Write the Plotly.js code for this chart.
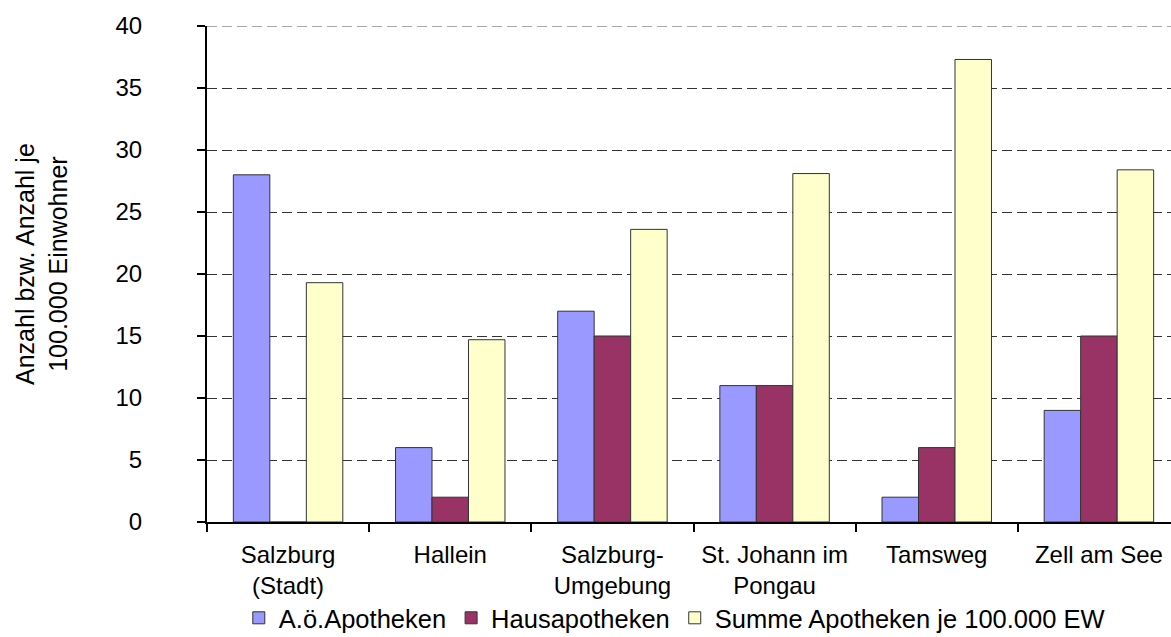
<!DOCTYPE html>
<html>
<head>
<meta charset="utf-8">
<script src="https://cdn.plot.ly/plotly-3.0.1.min.js"></script>
<style>html,body{margin:0;padding:0;background:#fff;}#chart{width:1171px;height:637px;}</style>
</head>
<body>
<div id="chart"></div>
<script>
const categories = ["Salzburg<br>(Stadt)", "Hallein", "Salzburg-<br>Umgebung", "St. Johann im<br>Pongau", "Tamsweg", "Zell am See"];
const seriesNames = ["A.ö.Apotheken", "Hausapotheken", "Summe Apotheken je 100.000 EW"];
const oeffentlicheApotheken = [28, 6, 17, 11, 2, 9];
const hausapotheken = [0, 2, 15, 11, 6, 15];
const summeJe100000 = [19.3, 14.7, 23.6, 28.1, 37.3, 28.4];
const yTickValues = [0, 5, 10, 15, 20, 25, 30, 35, 40];
const yTitle = "Anzahl bzw. Anzahl je<br>100.000 Einwohner";

const colors = ["#9999FF", "#993366", "#FFFFCC"];
const values = [oeffentlicheApotheken, hausapotheken, summeJe100000];
const FONT = "Liberation Sans, Arial, sans-serif";

const traces = values.map((v, i) => ({
  type: "bar",
  x: categories,
  y: v,
  name: seriesNames[i],
  marker: {color: colors[i], line: {color: "#333333", width: 1}},
  hoverinfo: "none"
}));

const yMax = yTickValues[yTickValues.length - 1];

const layout = {
  width: 1171, height: 637,
  margin: {l: 207, r: 0, t: 26, b: 115, pad: 0, autoexpand: false},
  paper_bgcolor: "#ffffff",
  plot_bgcolor: "#ffffff",
  font: {family: FONT, color: "#000000", size: 24},
  barmode: "group",
  bargap: 0.325,
  bargroupgap: 0,
  showlegend: true,
  legend: {
    orientation: "h",
    x: 0.033, xanchor: "left",
    y: -0.194, yanchor: "middle",
    font: {family: FONT, size: 25.5, color: "#000"},
    bgcolor: "rgba(0,0,0,0)",
    traceorder: "normal",
    itemclick: false
  },
  xaxis: {
    type: "category",
    range: [-0.5, 5.5 - 9 / 162.2],
    showline: true, linecolor: "#000", linewidth: 2,
    ticks: "outside", tickson: "boundaries", ticklen: 8, tickwidth: 2, tickcolor: "#000",
    showgrid: false,
    tickfont: {family: FONT, size: 24, color: "#000"},
    tickangle: 0,
    ticklabelstandoff: 10,
    automargin: false,
    fixedrange: true
  },
  yaxis: {
    range: [0, yMax],
    tickvals: yTickValues,
    ticktext: yTickValues.map(String),
    showline: true, linecolor: "#000", linewidth: 2,
    ticks: "outside", ticklen: 8, tickwidth: 2, tickcolor: "#000",
    showgrid: true, gridcolor: "#333333", gridwidth: 1, griddash: "10px,5px",
    zeroline: false,
    tickfont: {family: FONT, size: 24, color: "#000"},
    ticklabelstandoff: 50,
    automargin: false,
    fixedrange: true
  },
  shapes: [{
    type: "line", xref: "paper", yref: "y",
    x0: 0, x1: 1, y0: yMax, y1: yMax,
    line: {color: "#555555", width: 1, dash: "10px,5px"},
    layer: "below"
  }],
  annotations: [{
    text: yTitle,
    xref: "paper", yref: "paper",
    x: (41 - 207) / 964, y: (522 - 264) / 496,
    xanchor: "center", yanchor: "middle",
    textangle: -90,
    showarrow: false,
    font: {family: FONT, size: 25, color: "#000"}
  }]
};

Plotly.newPlot("chart", traces, layout, {staticPlot: true, displayModeBar: false});
</script>
</body>
</html>
